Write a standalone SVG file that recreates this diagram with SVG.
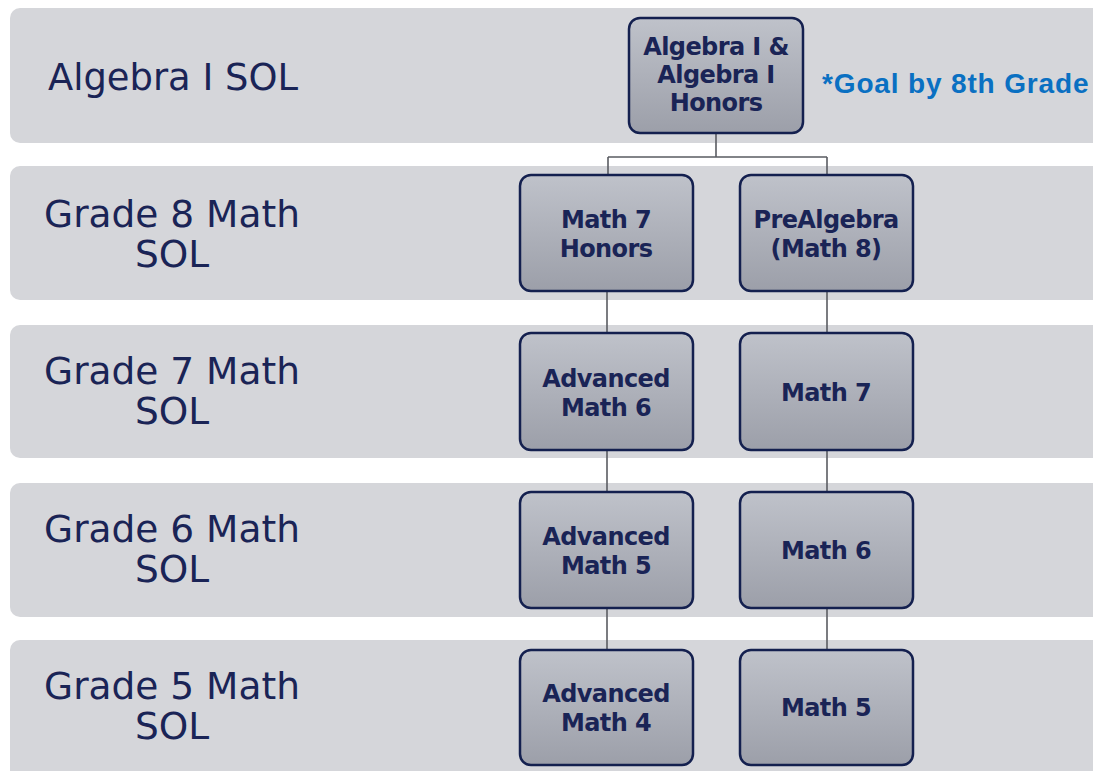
<svg xmlns="http://www.w3.org/2000/svg" width="1093" height="771" viewBox="0 0 1093 771">
<defs>
<linearGradient id="ng" x1="0" y1="0" x2="0" y2="1">
<stop offset="0" stop-color="#bfc2ca"/>
<stop offset="1" stop-color="#9c9fa9"/>
</linearGradient>
<style>
.band{fill:#d5d6da}
.node{fill:url(#ng);stroke:#14204f;stroke-width:2.5}
.nt{font-family:"DejaVu Sans","Liberation Sans",sans-serif;font-weight:bold;font-size:24px;fill:#1a2456;text-anchor:middle;letter-spacing:-0.6px}
.lt{font-family:"DejaVu Sans","Liberation Sans",sans-serif;font-size:37.5px;fill:#1a2456;text-anchor:middle}
.goal{font-family:"Liberation Sans",Arial,sans-serif;font-weight:bold;font-size:28px;fill:#0a70c2;letter-spacing:0.85px}
.conn{fill:none;stroke:#5a5c62;stroke-width:1.6}
</style>
</defs>
<rect width="1093" height="771" fill="#ffffff"/>
<g id="bands">
<rect class="band" x="10" y="8" width="1100" height="135" rx="10"/>
<rect class="band" x="10" y="166" width="1100" height="134" rx="10"/>
<rect class="band" x="10" y="325" width="1100" height="133" rx="10"/>
<rect class="band" x="10" y="483" width="1100" height="134" rx="10"/>
<rect class="band" x="10" y="640" width="1100" height="140" rx="10"/>
</g>
<g id="labels">
<text class="lt" x="173" y="90" textLength="250" lengthAdjust="spacingAndGlyphs">Algebra I SOL</text>
<text class="lt" x="172" y="227">Grade 8 Math</text>
<text class="lt" x="172" y="267">SOL</text>
<text class="lt" x="172" y="384">Grade 7 Math</text>
<text class="lt" x="172" y="424">SOL</text>
<text class="lt" x="172" y="542">Grade 6 Math</text>
<text class="lt" x="172" y="582">SOL</text>
<text class="lt" x="172" y="699">Grade 5 Math</text>
<text class="lt" x="172" y="739">SOL</text>
<text class="goal" x="822" y="93">*Goal by 8th Grade</text>
</g>
<g id="connectors">
<path class="conn" d="M716 133 V157 M608 157 H827 M608 157 V175 M827 157 V175"/>
<path class="conn" d="M607 291 V333 M827 291 V333"/>
<path class="conn" d="M607 450 V492 M827 450 V492"/>
<path class="conn" d="M607 608 V650 M827 608 V650"/>
</g>
<g id="n-alg">
<rect class="node" x="629" y="18" width="174" height="115" rx="11"/>
<text class="nt" x="716" y="55">Algebra I &amp;</text>
<text class="nt" x="716" y="83">Algebra I</text>
<text class="nt" x="716" y="111">Honors</text>
</g>
<g id="n-m7h">
<rect class="node" x="520" y="175" width="173" height="116" rx="11"/>
<text class="nt" x="606" y="228">Math 7</text>
<text class="nt" x="606" y="257">Honors</text>
</g>
<g id="n-pre">
<rect class="node" x="740" y="175" width="173" height="116" rx="11"/>
<text class="nt" x="826" y="228">PreAlgebra</text>
<text class="nt" x="826" y="257">(Math 8)</text>
</g>
<g id="n-am6">
<rect class="node" x="520" y="333" width="173" height="117" rx="11"/>
<text class="nt" x="606" y="387">Advanced</text>
<text class="nt" x="606" y="416">Math 6</text>
</g>
<g id="n-m7">
<rect class="node" x="740" y="333" width="173" height="117" rx="11"/>
<text class="nt" x="826" y="401">Math 7</text>
</g>
<g id="n-am5">
<rect class="node" x="520" y="492" width="173" height="116" rx="11"/>
<text class="nt" x="606" y="545">Advanced</text>
<text class="nt" x="606" y="574">Math 5</text>
</g>
<g id="n-m6">
<rect class="node" x="740" y="492" width="173" height="116" rx="11"/>
<text class="nt" x="826" y="559">Math 6</text>
</g>
<g id="n-am4">
<rect class="node" x="520" y="650" width="173" height="115" rx="11"/>
<text class="nt" x="606" y="702">Advanced</text>
<text class="nt" x="606" y="731">Math 4</text>
</g>
<g id="n-m5">
<rect class="node" x="740" y="650" width="173" height="115" rx="11"/>
<text class="nt" x="826" y="716">Math 5</text>
</g>
</svg>
